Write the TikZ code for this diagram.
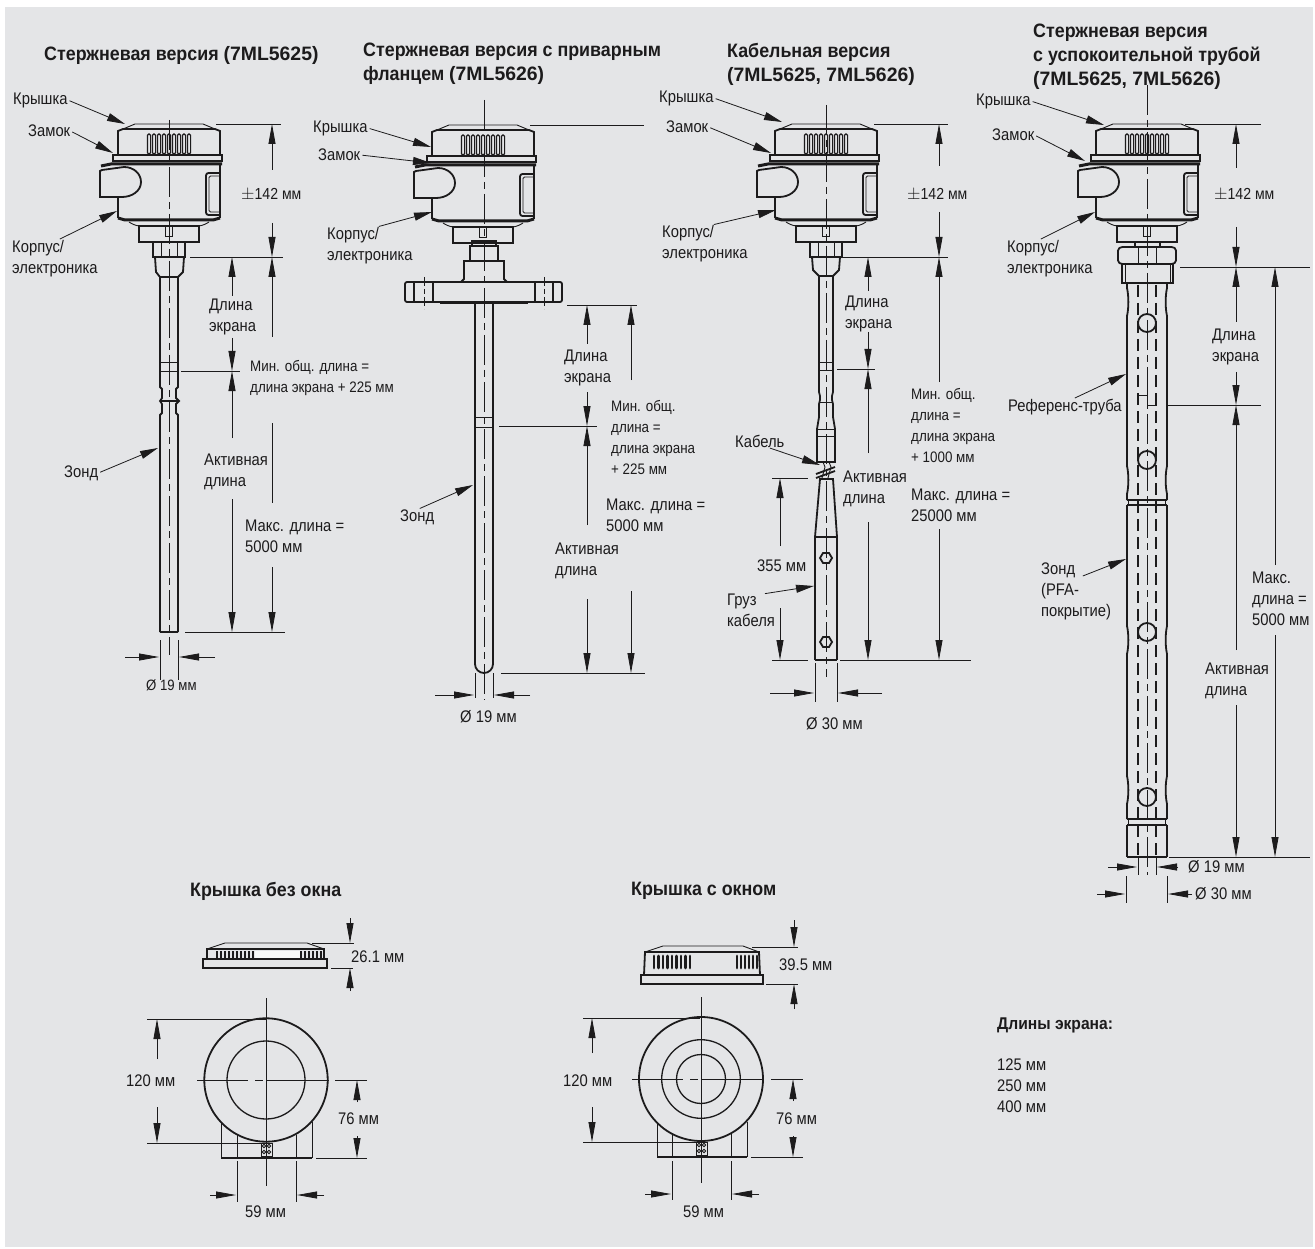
\documentclass[tikz,border=0pt]{standalone}
\usepackage{fontspec}
\setmainfont[FakeStretch=0.88]{Liberation Sans}
\newfontfamily\headfont[FakeStretch=0.92]{Liberation Sans}
\newfontfamily\codefont[FakeStretch=1.0]{Liberation Sans}
\newcommand{\partcode}[1]{{\codefont #1}}
\usetikzlibrary{arrows.meta, positioning}
\definecolor{panel}{HTML}{E4E5E7}
\definecolor{ink}{HTML}{1C1B1C}
\tikzset{
  Heavy/.style={draw=ink, line width=1.8pt},
  Fine/.style={draw=ink, line width=0.9pt},
  Ext/.style={draw=ink, line width=0.8pt},
  Axis/.style={draw=ink, line width=0.7pt, dash pattern=on 30pt off 5pt on 7pt off 5pt},
  Dim/.style={draw=ink, line width=0.8pt, -{Triangle[length=20pt,width=7pt]}},
  Lead/.style={draw=ink, line width=0.8pt, shorten <=2pt, -{Triangle[length=18pt,width=8pt]}},
  Txt/.style={inner sep=0pt, anchor=west, align=left, text=ink, font=\fontsize{16.8}{21}\selectfont},
  Small/.style={font=\fontsize{15.2}{21}\selectfont},
  Tol/.style={font=\fontsize{16}{21}\selectfont},
  Title/.style={inner sep=0pt, anchor=west, align=left, text=ink, font=\headfont\fontsize{19.4}{24}\selectfont\bfseries},
  Low/.style={yshift=-2pt},
  head/.pic={
    % cover
    \draw[Heavy] (-51,31) -- (-51,7) -- (-46,5) -- (46,5) -- (51,7) -- (51,31);
    \draw[Fine] (-46,5) -- (-34,0) -- (34,0) -- (46,5);
    \foreach \i in {-4,...,4}
      \draw[Fine, rounded corners=1.4pt, line width=1.2pt] (\i*5-1.6,10) rectangle (\i*5+1.6,30);
    \draw[Heavy] (-56,31) rectangle (53,37);
    % body
    \draw[draw=ink, line width=3pt] (-68,42) -- (-58,40) -- (53,40);
    \draw[Heavy] (51,41) -- (51,94) (-51,73) -- (-51,94);
    \draw[draw=ink, line width=3pt] (-51,94) -- (-44,96) -- (44,96) -- (51,94);
    \draw[Fine] (-40,98) .. controls (-34,102) and (-30,102) .. (-28,102) -- (28,102) .. controls (30,102) and (34,102) .. (40,98);
    \draw[Heavy] (-67,46) -- (-45,43) .. controls (-35,43) and (-28,50) .. (-28,58) .. controls (-28,67) and (-37,73) .. (-47,73) -- (-69,73) -- (-69,47) -- cycle;
    \draw[Heavy, rounded corners=2.5pt] (51,49) -- (37,49) -- (37,91) -- (51,91);
    \draw[Fine, rounded corners=1.5pt] (51,52) -- (40,52) -- (40,88) -- (51,88);
    % neck
    \draw[Heavy] (-30,102) rectangle (30,118);
    \draw[Fine] (-3.5,102) rectangle (3.5,112);
  }
}
\begin{document}
\begin{tikzpicture}[x=1pt, y=-1pt]
  \useasboundingbox (0,0) rectangle (1315,1249);
  \fill[panel] (5,7) rectangle (1313,1247);
  % Titles
  \node[Title, Low] (titleA) at (44,53) {Стержневая версия \partcode{(7ML5625)}};
  \node[Title, Low] (titleB) at (363,62) {Стержневая версия с приварным\\фланцем \partcode{(7ML5626)}};
  \node[Title, Low] (titleC) at (727,62.5) {Кабельная версия\\\partcode{(7ML5625, 7ML5626)}};
  \node[Title, Low] (titleD) at (1033,55) {Стержневая версия\\с успокоительной трубой\\\partcode{(7ML5625, 7ML5626)}};
  \node[Title, Low] (titleE) at (190,889) {Крышка без окна};
  \node[Title, Low] (titleF) at (631,889) {Крышка с окном};
  \node[Title, Low, font=\headfont\fontsize{17}{21}\selectfont\bfseries] (titleG) at (997,1023) {Длины экрана:};
  % Heads
  \pic at (169,124) {head};
  \pic at (483,125) {head};
  \pic at (826,124) {head};
  \pic at (1147,124) {head};
  % Axes
  \foreach \xa/\ya/\yb in {169/120/655, 484/100/700, 826/105/677, 1147/85/875}
    \draw[Axis] (\xa,\ya) -- (\xa,\yb);
  % Rod version
  \draw[Heavy] (153,242) rectangle (185,257);
  \draw[Fine] (161,242) -- (161,257) (177,242) -- (177,257);
  \draw[Heavy] (155,257) -- (156,272) -- (160,277) -- (178,277) -- (183,272) -- (184,257);
  \draw[Heavy] (160,277) -- (160,387) -- (162,389) -- (162,398) -- (160,401) -- (162,404) -- (162,413) -- (160,415) -- (160,632);
  \draw[Heavy] (178,277) -- (178,387) -- (176,389) -- (176,398) -- (179,401) -- (176,404) -- (176,413) -- (178,415) -- (178,632);
  \draw[Fine] (160,362) -- (178,362) (160,371) -- (178,371);
  \draw[Heavy] (160,401) -- (179,401);
  \draw[draw=ink, line width=2.2pt] (160,632) -- (178,632);
  % Flange version
  \draw[Heavy] (472,241) rectangle (496,246);
  \draw[Heavy] (470,246) rectangle (498,261);
  \draw[Heavy] (461,282) -- (464,279) -- (464,261) -- (504,261) -- (504,279) -- (507,282);
  \draw[Heavy, rounded corners=2pt] (405,282) rectangle (562,302);
  \draw[Heavy] (414,282) -- (414,302) (433,282) -- (433,302) (535,282) -- (535,302) (553,282) -- (553,302);
  \draw[Axis, dash pattern=on 9pt off 3pt on 5pt off 3pt] (424,277) -- (424,309);
  \draw[Axis, dash pattern=on 9pt off 3pt on 5pt off 3pt] (544,277) -- (544,309);
  \draw[Heavy] (440,303.5) -- (528,303.5);
  \draw[Heavy] (475,303) -- (475,664) arc[start angle=180, end angle=0, radius=9] -- (493,303);
  \draw[Fine] (475,417) -- (493,417) (475,427) -- (493,427);
  % Cable version
  \draw[Heavy] (810,242) rectangle (842,257);
  \draw[Fine] (818,242) -- (818,257) (834,242) -- (834,257);
  \draw[Heavy] (812,257) -- (813,270) -- (819,276) -- (833,276) -- (839,270) -- (840,257);
  \draw[Heavy] (819,276) -- (819,392) -- (820,396) -- (820,400) -- (819,404) -- (819,417) -- (817,429) -- (817,462) -- (835,462) -- (835,429) -- (833,417) -- (833,404) -- (832,400) -- (832,396) -- (833,392) -- (833,276);
  \draw[Fine] (819,362) -- (833,362) (819,370) -- (833,370) (819,402) -- (833,402) (817,429) -- (835,429) (817,436) -- (835,436);
  \draw[Fine] (823,462) -- (825,467) -- (822,478) (829,462) -- (831,467) -- (828,478);
  \draw[Heavy] (816,474) -- (835,467) (816,478) -- (835,471);
  \draw[Heavy] (820,479) -- (833,479) -- (837,537) -- (815,537) -- cycle;
  \draw[Heavy] (815,537) -- (815,660) (837,537) -- (837,660);
  \draw[draw=ink, line width=2.4pt] (815,660) -- (837,660);
  \foreach \yh in {558,642}
    \draw[Heavy] (820,\yh) -- (823,\yh-5) -- (829,\yh-5) -- (832,\yh) -- (829,\yh+5) -- (823,\yh+5) -- cycle;
  % Tube version
  \draw[Heavy] (1135,242) rectangle (1160,247);
  \draw[Heavy, rounded corners=1.5pt] (1118,249) -- (1121,247) -- (1173,247) -- (1176,249) -- (1176,262) -- (1173,264) -- (1121,264) -- (1118,262) -- cycle;
  \draw[Fine] (1138,247) -- (1138,264) (1156,247) -- (1156,264);
  \draw[Heavy] (1122,264) rectangle (1173,283);
  \draw[Fine] (1125,264) -- (1125,283) (1170,264) -- (1170,283);
  \foreach \xs/\d in {1127/1.8, 1167/-1.8} {
    \draw[Heavy] (\xs,283) foreach \wy in {302,480} { -- (\xs,\wy-14) .. controls (\xs+\d,\wy-6) and (\xs+\d,\wy+6) .. (\xs,\wy+14) } -- (\xs,500);
    \draw[Heavy] (\xs,505) foreach \wy in {640,790} { -- (\xs,\wy-14) .. controls (\xs+\d,\wy-6) and (\xs+\d,\wy+6) .. (\xs,\wy+14) } -- (\xs,819);
    \draw[Heavy] (\xs,825) -- (\xs,857);
    \draw[Fine] (\xs+\d,500) -- (\xs+\d,505) (\xs+\d,819) -- (\xs+\d,825);
  }
  \draw[Heavy] (1127,500) -- (1167,500) (1127,505) -- (1167,505) (1127,819) -- (1167,819) (1127,825) -- (1167,825);
  \draw[draw=ink, line width=2.2pt] (1127,857) -- (1167,857);
  \foreach \xs in {1138,1156}
    \draw[draw=ink, line width=1.2pt, dash pattern=on 12pt off 6pt] (\xs,285) -- (\xs,855);
  \foreach \yh in {323,460,632,797}
    \draw[Heavy] (1147,\yh) circle[radius=9];
  \draw[Fine] (1138,395) -- (1147,395) -- (1147,405) -- (1157,405);
  % Cover without window
  \fill[white!75!panel] (255,951) rectangle (300,958);
  \draw[Fine] (207,949) -- (225,943) -- (307,943) -- (324,949);
  \draw[Heavy] (207,959) -- (207,949) -- (324,949) -- (324,959);
  \draw[Heavy] (203,959) rectangle (327,968);
  \foreach \xv in {217,221,...,253}
    \draw[draw=ink, line width=1.8pt] (\xv,951) -- (\xv,958);
  \foreach \xv in {301,305,...,321}
    \draw[draw=ink, line width=1.8pt] (\xv,951) -- (\xv,958);
  \draw[Heavy] (266,1080) circle[radius=61.7];
  \draw[Fine, line width=1.3pt] (266,1080) circle[radius=39];
  \draw[Fine] (221,1122) -- (221,1158) (312,1122) -- (312,1158) (237,1135) -- (237,1158) (296,1135) -- (296,1158);
  \draw[Heavy] (221,1158) -- (312,1158);
  \draw[Fine] (261,1143) rectangle (272,1156);
  \foreach \xc in {264,269} \foreach \yc in {1146,1152}
    \draw[Fine] (\xc,\yc) circle[radius=1.8];
  % Cover with window
  \draw[Fine] (645,952) -- (663,946) -- (743,946) -- (759,952);
  \draw[Heavy] (644,975) -- (645,952) -- (759,952) -- (760,975);
  \draw[Heavy] (641,975) rectangle (763,984);
  \foreach \xv in {654,658.5,...,690}
    \draw[draw=ink, line width=2.8pt, line cap=round] (\xv,956) -- (\xv,968);
  \foreach \xv in {737,741,...,758}
    \draw[draw=ink, line width=2.8pt, line cap=round] (\xv,956) -- (\xv,968);
  \draw[Heavy] (701,1079) circle[radius=62];
  \draw[Fine, line width=1.3pt] (701,1079) circle[radius=39.3];
  \draw[Fine, line width=1.3pt] (701,1079) circle[radius=24.5];
  \draw[Fine] (657,1122) -- (657,1157) (747,1122) -- (747,1157) (672,1134) -- (672,1157) (731,1134) -- (731,1157);
  \draw[Heavy] (657,1157) -- (747,1157);
  \draw[Fine] (696,1142) rectangle (707,1155);
  \foreach \xc in {699,704} \foreach \yc in {1145,1151}
    \draw[Fine] (\xc,\yc) circle[radius=1.8];
  % Cover centre lines
  \draw[Ext] (266,998) -- (266,1186) (197,1080) -- (248,1080) (255,1080) -- (263,1080) (266,1080) -- (329,1080);
  \draw[Ext] (701,997) -- (701,1183) (632,1079) -- (683,1079) (690,1079) -- (698,1079) (701,1079) -- (763,1079);
  % Extension lines
  \foreach \xa/\xb/\yy in {
    216/281/124, 190/283/257, 181/240/371, 185/285/632,
    530/644/125, 567/637/305, 499/597/426, 501/645/673,
    874/948/124, 835/948/257, 837/875/369, 840/971/660, 772/808/478, 772/808/660,
    1185/1261/124, 1180/1310/267, 1166/1261/405, 1169/1310/857,
    312/354/943, 331/353/968, 147/266/1019, 147/262/1143, 335/367/1080, 316/367/1158,
    752/798/947, 766/798/984, 583/700/1018, 583/697/1142, 771/803/1079, 751/803/1157}
    \draw[Ext] (\xa,\yy) -- (\xb,\yy);
  \foreach \xx/\ya/\yb in {
    160/640/680, 178/640/680, 475/673/698, 493/673/698, 815/663/702, 837/663/702,
    1138/858/875, 1156/858/875, 1126/876/903, 1167/876/903,
    237/1161/1202, 296/1161/1202, 672/1161/1200, 731/1161/1200}
    \draw[Ext] (\xx,\ya) -- (\xx,\yb);
  % Dimension arrows
  \foreach \xx/\ya/\yb in {
    272/170/124, 272/223/257, 272/337/257, 272/567/632, 232/296/257, 232/338/371, 232/438/371, 232/499/632,
    587/344/305, 587/392/426, 587/525/426, 587/599/673, 631/380/305, 631/591/673,
    939/166/124, 939/212/257, 939/382/257, 939/529/660, 868/291/257, 868/332/369, 868/453/369, 868/522/660, 780/546/478, 780/608/660,
    1236/168/124, 1236/227/267, 1236/322/267, 1236/372/405, 1236/650/405, 1236/705/857, 1275/565/267, 1275/635/857,
    350/918/943, 350/991/968, 157/1059/1019, 157/1107/1143, 357/1102/1080, 357/1136/1158,
    794/920/947, 794/1009/984, 592/1053/1018, 592/1107/1142, 793/1101/1079, 793/1136/1157}
    \draw[Dim] (\xx,\ya) -- (\xx,\yb);
  \draw[Ext] (272,423) -- (272,503);
  \foreach \xa/\xb/\yy in {
    125/159/657, 215/179/657, 435/474/695, 530/494/695, 770/814/693, 882/838/693,
    1108/1137/867, 1178/1157/867, 1097/1125/894, 1192/1168/894,
    210/236/1195, 324/297/1195, 645/671/1194, 759/732/1194}
    \draw[Dim] (\xa,\yy) -- (\xb,\yy);
  % Labels
  \node[Txt, Low] (capA) at (13,98) {Крышка};
  \node[Txt] (lockA) at (28,131) {Замок};
  \node[Txt, Low] (caseA) at (12,256.5) {Корпус/\\электроника};
  \node[Txt, Low] (probeA) at (64,471) {Зонд};
  \node[Txt, Tol] (tolA) at (241,195) {$\pm$142 мм};
  \node[Txt, Low] (shieldA) at (209,314.5) {Длина\\экрана};
  \node[Txt, Small, Low] (minA) at (250,376.5) {Мин. общ. длина =\\длина экрана + 225 мм};
  \node[Txt, Low] (activeA) at (204,470) {Активная\\длина};
  \node[Txt] (maxA) at (245,536) {Макс. длина =\\5000 мм};
  \node[Txt, font=\fontsize{15}{21}\selectfont] (diaA) at (146,685) {Ø 19 мм};
  \node[Txt, Low] (capB) at (313,126) {Крышка};
  \node[Txt] (lockB) at (318,155) {Замок};
  \node[Txt, Low] (caseB) at (327,243.5) {Корпус/\\электроника};
  \node[Txt, Low] (probeB) at (400,515) {Зонд};
  \node[Txt, Low] (shieldB) at (564,365.5) {Длина\\экрана};
  \node[Txt, Small] (minB) at (611,437) {Мин. общ.\\длина =\\длина экрана\\+ 225 мм};
  \node[Txt] (maxB) at (606,515.5) {Макс. длина =\\5000 мм};
  \node[Txt, Low] (activeB) at (555,558.5) {Активная\\длина};
  \node[Txt] (diaB) at (460,717) {Ø 19 мм};
  \node[Txt, Low] (capC) at (659,96) {Крышка};
  \node[Txt] (lockC) at (666,127) {Замок};
  \node[Txt, Low] (caseC) at (662,241.5) {Корпус/\\электроника};
  \node[Txt, Tol] (tolC) at (907,195) {$\pm$142 мм};
  \node[Txt, Low] (shieldC) at (845,311.5) {Длина\\экрана};
  \node[Txt, Small] (minC) at (911,425) {Мин. общ.\\длина =\\длина экрана\\+ 1000 мм};
  \node[Txt] (maxC) at (911,505.5) {Макс. длина =\\25000 мм};
  \node[Txt, Low] (activeC) at (843,486.5) {Активная\\длина};
  \node[Txt] (cableC) at (735,441) {Кабель};
  \node[Txt] (tipC) at (757,566) {355 мм};
  \node[Txt] (weightC) at (727,610.5) {Груз\\кабеля};
  \node[Txt] (diaC) at (806,724) {Ø 30 мм};
  \node[Txt, Low] (capD) at (976,99) {Крышка};
  \node[Txt] (lockD) at (992,135) {Замок};
  \node[Txt, Low] (caseD) at (1007,256.5) {Корпус/\\электроника};
  \node[Txt, Tol] (tolD) at (1214,195) {$\pm$142 мм};
  \node[Txt, Low] (shieldD) at (1212,345) {Длина\\экрана};
  \node[Txt, Low] (refD) at (1008,405) {Референс-труба};
  \node[Txt, Low] (probeD) at (1041,589.5) {Зонд\\(PFA-\\покрытие)};
  \node[Txt, Low] (activeD) at (1205,679) {Активная\\длина};
  \node[Txt] (maxD) at (1252,598.5) {Макс.\\длина =\\5000 мм};
  \node[Txt] (diaD) at (1188,867) {Ø 19 мм};
  \node[Txt] (diaE) at (1195,894) {Ø 30 мм};
  \node[Txt] (coverA) at (351,957) {26.1 мм};
  \node[Txt] (bodyA) at (126,1081) {120 мм};
  \node[Txt] (partA) at (338,1119) {76 мм};
  \node[Txt] (baseA) at (245,1212) {59 мм};
  \node[Txt] (coverB) at (779,965) {39.5 мм};
  \node[Txt] (bodyB) at (563,1081) {120 мм};
  \node[Txt] (partB) at (776,1119) {76 мм};
  \node[Txt] (baseB) at (683,1212) {59 мм};
  \node[Txt] (listA) at (997,1086) {125 мм\\250 мм\\400 мм};
  % Leader tips
  \coordinate (capAt) at (125,124);
  \coordinate (lockAt) at (113,153);
  \coordinate (caseAt) at (117,211);
  \coordinate (probeAt) at (158,448);
  \coordinate (capBt) at (431,147);
  \coordinate (lockBt) at (431,163);
  \coordinate (caseBt) at (432,212);
  \coordinate (probeBt) at (473,485);
  \coordinate (capCt) at (782,122);
  \coordinate (lockCt) at (771,153);
  \coordinate (caseCt) at (776,210);
  \coordinate (cableCt) at (820,465);
  \coordinate (weightCt) at (814,586);
  \coordinate (capDt) at (1104,125);
  \coordinate (lockDt) at (1085,161);
  \coordinate (caseDt) at (1095,212);
  \coordinate (refDt) at (1126,374);
  \coordinate (probeDt) at (1126,559);
  % Leaders
  \foreach \lab in {capA, lockA, capB, lockB, capC, lockC, capD, lockD}
    \draw[Lead] (\lab.east) -- (\lab t);
  \draw[Lead] ([xshift=46pt]caseA.north west) -- (caseAt);
  \draw[Lead] ([xshift=50pt]caseB.north west) -- (caseBt);
  \draw[Lead] ([xshift=50pt]caseC.north west) -- (caseCt);
  \draw[Lead] ([xshift=32pt]caseD.north west) -- (caseDt);
  \draw[Lead] (probeA.east) -- (probeAt);
  \draw[Lead] ([xshift=18pt]probeB.north west) -- (probeBt);
  \draw[Lead] ([xshift=33pt]cableC.south west) -- (cableCt);
  \draw[Lead] ([xshift=36pt]weightC.north west) -- (weightCt);
  \draw[Lead] ([xshift=65pt]refD.north west) -- (refDt);
  \draw[Lead] ([xshift=40pt, yshift=-14pt]probeD.north west) -- (probeDt);
\end{tikzpicture}
\end{document}
